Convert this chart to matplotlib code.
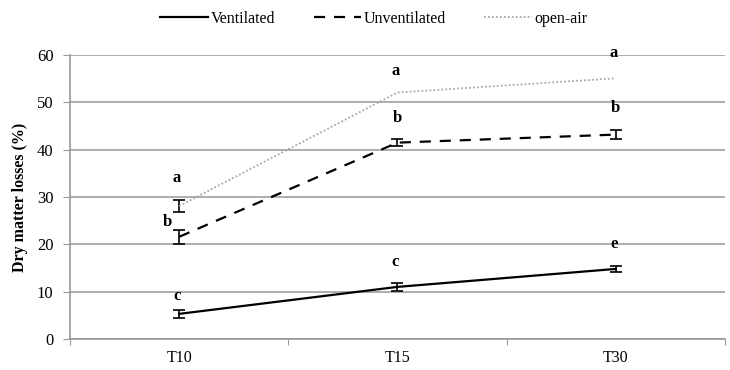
import matplotlib
matplotlib.use('Agg')

import numpy as np
import matplotlib.pyplot as plt
from matplotlib.lines import Line2D

# Data
times = ['T10', 'T15', 'T30']
ventilated = [5.3, 11.0, 14.8]
ventilated_err = [0.85, 0.9, 0.6]
unventilated = [21.6, 41.5, 43.2]
unventilated_err = [1.5, 0.8, 0.9]
open_air = [28.1, 52.1, 55.1]
open_air_err = [1.25, 0.0, 0.0]

# letters and their heights (y-values)
letters_vent = ['c', 'c', 'e']
letters_vent_y = [9.0, 16.3, 20.1]
letters_unvent = ['b', 'b', 'b']
letters_unvent_y = [24.8, 46.8, 48.9]
letters_open = ['a', 'a', 'a']
letters_open_y = [34.0, 56.6, 60.5]

plt.rcParams['font.family'] = ['Liberation Serif', 'DejaVu Serif']

fig = plt.figure(figsize=(7.3, 3.7), dpi=100)
ax = fig.add_axes([0.096, 0.084, 0.897, 0.767])

x = np.arange(len(times)) + 0.5

dash = (0, (5, 4))
dot = (0, (1, 1.2))

ax.errorbar(x, ventilated, yerr=ventilated_err, color='black', lw=1.6,
            ls='-', capsize=4, elinewidth=1.2, capthick=1.2)
ax.errorbar(x, unventilated, yerr=unventilated_err, color='black', lw=1.6,
            ls=dash, capsize=4, elinewidth=1.2, capthick=1.2)
ax.errorbar(x[:1], open_air[:1], yerr=open_air_err[:1], color='black', ls='none',
            capsize=4, elinewidth=1.2, capthick=1.2)
ax.plot(x, open_air, color='#a8a8a8', lw=1.3, ls=dot)

for i in range(len(times)):
    dx = -0.055 if i == 0 else 0.0
    ax.text(x[i] - 0.01, letters_open_y[i], letters_open[i], ha='center', va='center',
            fontsize=12, fontweight='bold')
    ax.text(x[i] + dx, letters_unvent_y[i], letters_unvent[i],
            ha='center', va='center', fontsize=12, fontweight='bold')
    ax.text(x[i] - 0.01, letters_vent_y[i], letters_vent[i], ha='center', va='center',
            fontsize=12, fontweight='bold')

ax.set_xlim(0, 3)
ax.set_ylim(0, 60)
ax.set_yticks(np.arange(0, 61, 10))
ax.set_xticks([0, 1, 2, 3])
ax.set_xticklabels([])
ax.set_xticks(x, minor=True)
ax.set_xticklabels(times, minor=True)
ax.tick_params(axis='x', which='minor', length=0, pad=8, labelsize=11.5)
ax.tick_params(axis='x', which='major', length=4, color='#999999')
ax.tick_params(axis='y', length=5, color='#999999', labelsize=12, pad=7)

ax.grid(axis='y', color='#a0a0a0', lw=1.2)
ax.set_axisbelow(True)
for s in ['top', 'right']:
    ax.spines[s].set_visible(False)
for s in ['left', 'bottom']:
    ax.spines[s].set_color('#999999')
    ax.spines[s].set_linewidth(1.2)

ax.set_ylabel('Dry matter losses (%)', fontsize=11.5, fontweight='bold')
ax.yaxis.set_label_coords(-0.064, 0.5)

handles = [Line2D([], [], color='black', lw=1.6, ls='-'),
           Line2D([], [], color='black', lw=1.6, ls=dash),
           Line2D([], [], color='#a8a8a8', lw=1.3, ls=dot)]
labels = ['Ventilated', 'Unventilated', 'open-air']
fig.legend(handles, labels, loc='upper left', bbox_to_anchor=(0.2, 1.01), ncol=3,
           frameon=False, fontsize=11.5, handlelength=3.0, handletextpad=0.15,
           columnspacing=2.4)

fig.savefig('out.png', dpi=100)
